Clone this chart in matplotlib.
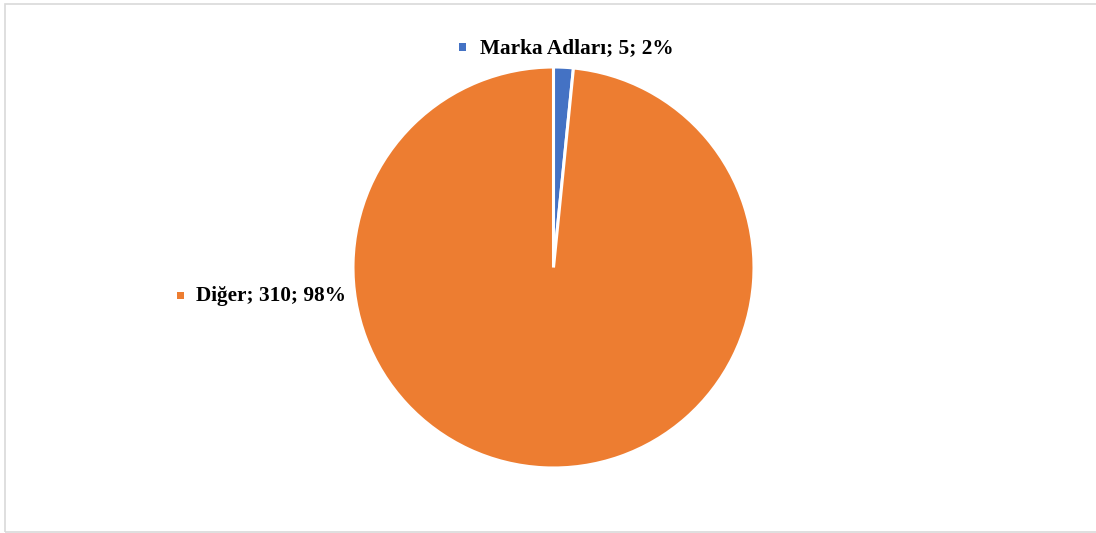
import matplotlib.pyplot as plt
from matplotlib.patches import Rectangle

categories = ["Marka Adları", "Diğer"]
values = [5, 310]
colors = ["#4472C4", "#ED7D31"]

W, H = 1096, 533
fig = plt.figure(figsize=(W / 100, H / 100), dpi=100)
fig.patch.set_facecolor("white")

# chart area frame
fig.add_artist(Rectangle((5 / W, 1 - 532 / H), (1100 - 5) / W, (532 - 4) / H,
                         transform=fig.transFigure, fill=False,
                         edgecolor="#D9D9D9", linewidth=1.2))

cx, cy, r = 553.5, 267.5, 200.5
ax = fig.add_axes([(cx - r) / W, 1 - (cy + r) / H, 2 * r / W, 2 * r / H])
wedges, _ = ax.pie(values, colors=colors, startangle=90, counterclock=False,
                   wedgeprops=dict(edgecolor="white", linewidth=2.2))
ax.set_aspect("equal")
ax.set_xlim(-1, 1)
ax.set_ylim(-1, 1)
ax.axis("off")

total = sum(values)
labels = [f"{c}; {v}; {round(v / total * 100)}%" for c, v in zip(categories, values)]
label_pos = [(480, 48), (196, 296)]  # pixel positions of label text starts
marker_pos = [(462, 47), (180, 295)]

for lab, (tx, ty), (mx, my), col in zip(labels, label_pos, marker_pos, colors):
    fig.text(tx / W, 1 - ty / H, lab, fontsize=15.3, fontweight="bold",
             family="Liberation Serif", ha="left", va="center", color="#000000")
    fig.add_artist(Rectangle(((mx - 3.5) / W, 1 - (my + 3.5) / H), 7 / W, 7 / H,
                             transform=fig.transFigure, facecolor=col, edgecolor="none"))

fig.savefig("out.png", dpi=100, facecolor="white")
